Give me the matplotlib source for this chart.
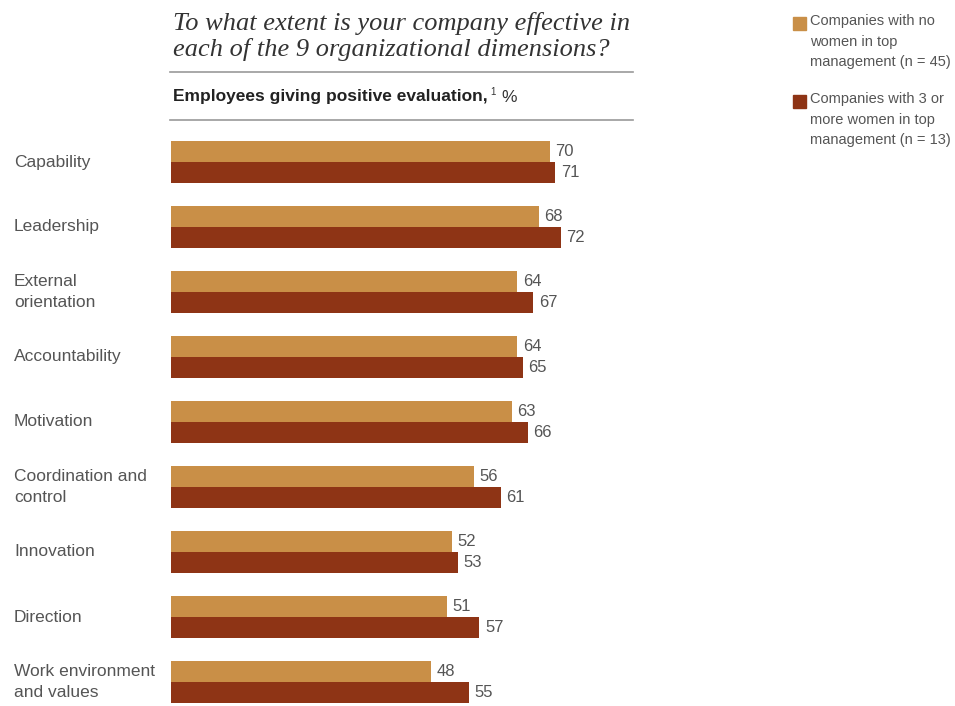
import matplotlib
matplotlib.use("Agg")
import matplotlib.pyplot as plt
from matplotlib import font_manager as fm

categories = ["Capability", "Leadership", "External\norientation", "Accountability",
              "Motivation", "Coordination and\ncontrol", "Innovation", "Direction",
              "Work environment\nand values"]
no_women = [70, 68, 64, 64, 63, 56, 52, 51, 48]
three_women = [71, 72, 67, 65, 66, 61, 53, 57, 55]
legend_labels = ["Companies with no\nwomen in top\nmanagement (n = 45)",
                 "Companies with 3 or\nmore women in top\nmanagement (n = 13)"]

names = {f.name for f in fm.fontManager.ttflist}
narrow = "Liberation Sans Narrow" if "Liberation Sans Narrow" in names else "Liberation Sans"

W, H = 955, 706
fig = plt.figure(figsize=(W / 100, H / 100), dpi=100)

c1 = "#C98F47"
c2 = "#8E3415"
gray = "#555555"

def fx(px):
    return px / W

def fy(py):
    return 1 - py / H

ax_left = 171
ax_right = 171 + 5.41 * 100
ax_top = 130
ax_bot = 706
ax = fig.add_axes([fx(ax_left), fy(ax_bot), fx(ax_right - ax_left), (ax_bot - ax_top) / H])
ax.set_xlim(0, 100)
unit = 65.0
ax.set_ylim((ax_bot - 162) / unit, (ax_top - 162) / unit)
ax.axis("off")

bh = 21 / unit
ys = list(range(len(categories)))
ax.barh([y - bh / 2 for y in ys], no_women, height=bh, color=c1, edgecolor="none")
ax.barh([y + bh / 2 for y in ys], three_women, height=bh, color=c2, edgecolor="none")

for y, a, b in zip(ys, no_women, three_women):
    ax.annotate(str(a), (a, y - bh / 2), xytext=(4, 0), textcoords="offset points",
                va="center", ha="left", fontsize=12, color=gray, family=narrow)
    ax.annotate(str(b), (b, y + bh / 2), xytext=(4, 0), textcoords="offset points",
                va="center", ha="left", fontsize=12, color=gray, family=narrow)
    ax.annotate(categories[y], (0, y), xycoords=("figure fraction", "data"),
                xytext=(14 * 0.72, 0), textcoords="offset points",
                va="center", ha="left", fontsize=12.5, color=gray, family=narrow,
                linespacing=1.45, annotation_clip=False)

# title
fig.text(fx(173), fy(12), "To what extent is your company effective in\neach of the 9 organizational dimensions?",
         ha="left", va="top", fontsize=19, style="italic", family="Liberation Serif",
         color="#333333", linespacing=1.15)
# rules
fig.add_artist(plt.Line2D([fx(170), fx(633)], [fy(72), fy(72)], color="#999999", lw=1.2))
fig.add_artist(plt.Line2D([fx(170), fx(633)], [fy(120), fy(120)], color="#999999", lw=1.2))
fig.text(fx(173), fy(97), "Employees giving positive evaluation,", ha="left", va="center",
         fontsize=12.5, weight="bold", family=narrow, color="#222222")
fig.text(fx(490), fy(92), "1", ha="left", va="center", fontsize=7, family=narrow, color="#333333")
fig.text(fx(501), fy(97), "%", ha="left", va="center", fontsize=12.5, family=narrow, color="#333333")

# legend
for i, (lab, col) in enumerate(zip(legend_labels, [c1, c2])):
    top = 17 + 78 * i
    fig.add_artist(plt.Rectangle((fx(793), fy(top + 13)), fx(13), 13 / H, color=col,
                                 transform=fig.transFigure))
    fig.text(fx(810), fy(top - 3), lab, ha="left", va="top", fontsize=10.5,
             family=narrow, color=gray, linespacing=1.6)

fig.savefig("out.png", dpi=100)
